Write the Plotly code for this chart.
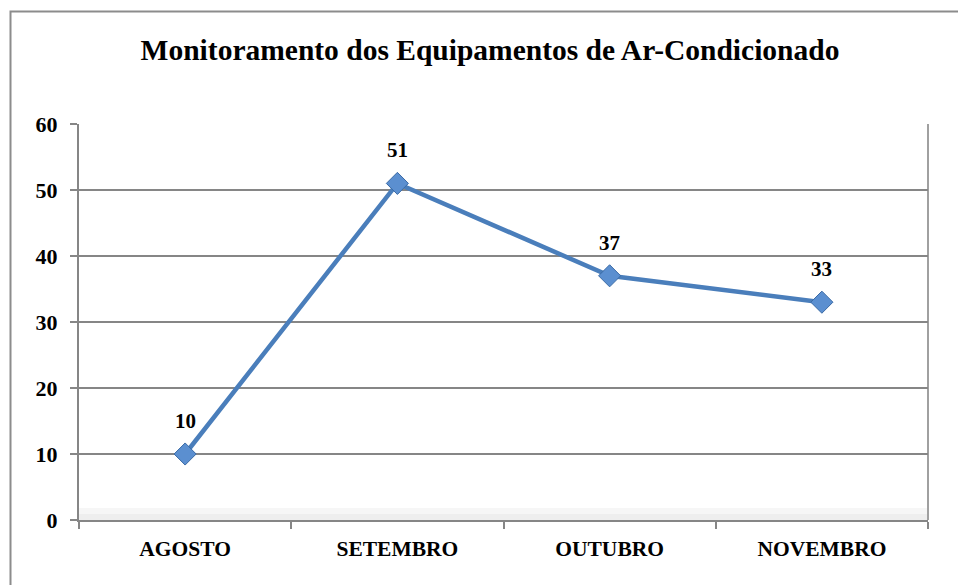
import plotly.graph_objects as go

categories = ["AGOSTO", "SETEMBRO", "OUTUBRO", "NOVEMBRO"]
values = [10, 51, 37, 33]
y_ticks = [0, 10, 20, 30, 40, 50, 60]
title_text = "Monitoramento dos Equipamentos de Ar-Condicionado"

W, H = 958, 585
L, R, T, B = 79, 30, 124, 65
pw, ph = W - L - R, H - T - B

def px_x(x):
    return (x - L) / pw

def px_y(y):
    return (H - B - y) / ph

font = "Liberation Serif, Times New Roman, serif"
x_pos = list(range(len(categories)))

fig = go.Figure()
fig.add_trace(go.Scatter(
    x=x_pos, y=values,
    mode="lines+markers",
    line=dict(color="#4a7ebb", width=4.5),
    marker=dict(symbol="diamond", size=17, color="#5b8fd0",
                line=dict(color="#3a6aa5", width=1)),
    cliponaxis=False,
    hoverinfo="skip",
))

annotations = [
    dict(x=xp, y=v, xref="x", yref="y", text=str(v), showarrow=False,
         yshift=33, font=dict(family=font, size=21, color="black", weight="bold"))
    for xp, v in zip(x_pos, values)
]

shapes = [
    # outer chart border
    dict(type="rect", xref="paper", yref="paper",
         x0=px_x(10.5), x1=px_x(W + 20), y0=px_y(H + 20), y1=px_y(11.5),
         line=dict(color="#8c8c8c", width=2), fillcolor="rgba(0,0,0,0)", layer="below"),
    # subtle bottom bevel of plot area
    dict(type="rect", xref="paper", yref="paper", x0=0, x1=1, y0=0, y1=px_y(508),
         line=dict(width=0), fillcolor="#f6f6f6", layer="below"),
    dict(type="rect", xref="paper", yref="paper", x0=0, x1=1, y0=0, y1=px_y(514),
         line=dict(width=0), fillcolor="#eeeeee", layer="below"),
    dict(type="line", xref="paper", yref="paper", x0=1, x1=1, y0=0, y1=1,
         line=dict(color="#a0a0a0", width=2), layer="below"),
]

fig.update_layout(
    width=W, height=H,
    margin=dict(l=L, r=R, t=T, b=B),
    paper_bgcolor="white",
    plot_bgcolor="white",
    showlegend=False,
    title=dict(text=title_text, xref="container", x=490 / W, xanchor="center",
               yref="container", y=1 - 50 / H, yanchor="middle",
               font=dict(family=font, size=29.5, color="black", weight="bold")),
    shapes=shapes,
    annotations=annotations,
    xaxis=dict(
        range=[-0.5, 3.5],
        tickmode="array", tickvals=x_pos, ticktext=categories,
        showgrid=False, zeroline=False,
        showline=True, linecolor="#868686", linewidth=2,
        ticks="",
        ticklabelstandoff=8,
        tickfont=dict(family=font, size=21.5, color="black", weight="bold"),
        minor=dict(tickmode="array", tickvals=[-0.5, 0.5, 1.5, 2.5, 3.5],
                   ticks="outside", ticklen=7, tickcolor="#868686", tickwidth=2),
        fixedrange=True,
    ),
    yaxis=dict(
        range=[0, 60],
        tickmode="array", tickvals=y_ticks,
        showgrid=True, gridcolor="#868686", gridwidth=1.5,
        zeroline=False,
        showline=True, linecolor="#868686", linewidth=2,
        ticks="outside", ticklen=7, tickcolor="#868686", tickwidth=2,
        tickfont=dict(family=font, size=22, color="black", weight="bold"),
        ticklabelstandoff=8,
        fixedrange=True,
    ),
)

fig.write_html("out.html", config={"displayModeBar": False},
               post_script="document.body.style.margin='0';")
